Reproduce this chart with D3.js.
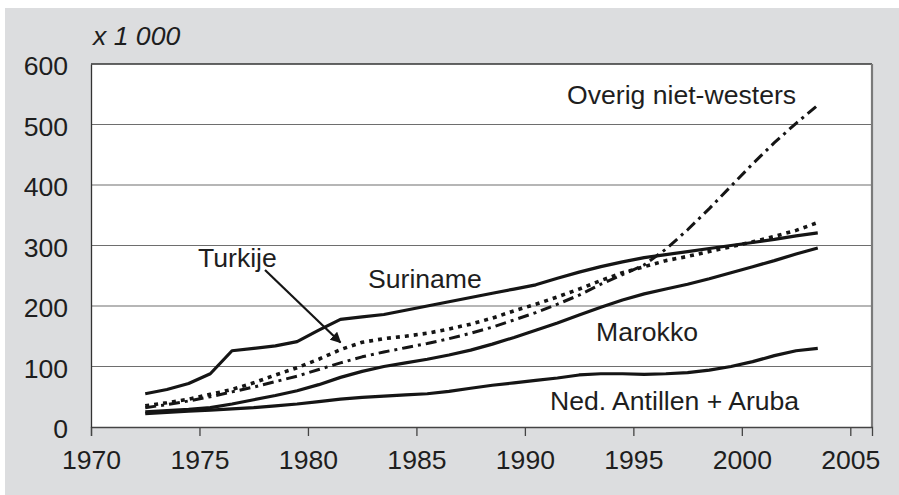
<!DOCTYPE html>
<html>
<head>
<meta charset="utf-8">
<script src="https://cdn.jsdelivr.net/npm/d3@7/dist/d3.min.js"></script>
<style>
  html, body { margin: 0; padding: 0; background: #ffffff; }
  svg { display: block; }
  text { font-family: "Liberation Sans", Arial, Helvetica, sans-serif; fill: #1e1e1e; }
</style>
</head>
<body>
<svg id="chart" width="899" height="495"></svg>
<script>
// ---- data (x 1 000 persons, per year) ----
const years = [1972,1973,1974,1975,1976,1977,1978,1979,1980,1981,1982,1983,1984,1985,1986,1987,
               1988,1989,1990,1991,1992,1993,1994,1995,1996,1997,1998,1999,2000,2001,2002,2003];
const suriname = [55,62,72,88,126,130,134,141,160,178,182,186,193,200,207,214,
                  221,228,235,246,256,265,273,280,285,290,295,300,305,310,316,321];
const marokko  = [25,27,29,32,38,45,52,60,70,82,92,100,106,112,119,127,
                  137,148,160,172,185,198,210,220,228,236,245,255,265,275,286,296];
const antillen = [22,24,26,28,30,32,35,38,42,46,49,51,53,55,59,64,
                  69,73,77,81,86,88,88,87,88,90,94,100,108,118,126,130];
const turkije  = [35,40,46,54,62,73,86,98,112,128,140,146,150,155,162,170,
                  180,192,203,215,228,242,255,265,275,282,290,298,306,315,325,338];
const overig   = [32,37,43,50,58,66,75,84,95,106,116,124,131,138,146,155,
                  165,177,189,203,218,236,252,268,294,326,361,398,435,470,502,532];
const xTicks = [1970,1975,1980,1985,1990,1995,2000,2005];
const yTicks = [0,100,200,300,400,500,600];

const series = [
  { name: "Ned. Antillen + Aruba", values: antillen, dash: null,      width: 3.2 },
  { name: "Marokko",               values: marokko,  dash: null,      width: 3.2 },
  { name: "Suriname",              values: suriname, dash: null,      width: 3.2 },
  { name: "Turkije",               values: turkije,  dash: "4,5",     width: 3.6 },
  { name: "Overig niet-westers",   values: overig,   dash: "11,5,3,5", width: 3.0 }
];

const svg = d3.select("#chart");
const W = 899, H = 495;
const L = 91, R = 872, T = 64, B = 427;
const FS = 26.6;

// background
svg.append("rect").attr("x", 5).attr("y", 8).attr("width", W - 5).attr("height", H - 8).attr("fill", "#dcdddf");
svg.append("rect").attr("x", L).attr("y", T).attr("width", R - L).attr("height", B - T).attr("fill", "#ffffff");

const x = d3.scaleLinear().domain([1970, 2006]).range([L, R]);
const y = d3.scaleLinear().domain([0, 600]).range([B, T]);

// gridlines
svg.append("g")
  .selectAll("line").data(yTicks.filter(v => v > 0 && v < 600)).join("line")
  .attr("x1", L).attr("x2", R)
  .attr("y1", d => y(d)).attr("y2", d => y(d))
  .attr("stroke", "#6e6e6e").attr("stroke-width", 1.2);

// frame: top dark, right grey
svg.append("line").attr("x1", L).attr("x2", R).attr("y1", T).attr("y2", T).attr("stroke", "#333").attr("stroke-width", 1.3);
svg.append("line").attr("x1", R).attr("x2", R).attr("y1", T).attr("y2", B).attr("stroke", "#7a7a7a").attr("stroke-width", 2.2);

// x axis
const xAxis = d3.axisBottom(x).tickValues(xTicks).tickFormat(d3.format("d")).tickSize(9).tickPadding(14);
const gx = svg.append("g").attr("transform", `translate(0,${B})`).call(xAxis);
gx.select(".domain").attr("stroke", "#444").attr("stroke-width", 1.3);
gx.selectAll(".tick line").attr("stroke", "#444").attr("stroke-width", 1.3);
gx.selectAll(".tick text").attr("font-size", FS).attr("fill", "#1e1e1e")
  .attr("font-family", "'Liberation Sans', Arial, sans-serif");

// y axis
const yAxis = d3.axisLeft(y).tickValues(yTicks).tickSize(0).tickPadding(23);
const gy = svg.append("g").attr("transform", `translate(${L},0)`).call(yAxis);
gy.select(".domain").attr("stroke", "#333").attr("stroke-width", 1.3);
gy.selectAll(".tick text").attr("font-size", FS).attr("fill", "#1e1e1e").attr("dy", "0.4em")
  .attr("font-family", "'Liberation Sans', Arial, sans-serif");

// lines
const line = d3.line()
  .x((d, i) => x(years[i] + 0.5))
  .y(d => y(d));

svg.append("g").selectAll("path").data(series).join("path")
  .attr("d", d => line(d.values))
  .attr("fill", "none")
  .attr("stroke", "#151515")
  .attr("stroke-width", d => d.width)
  .attr("stroke-dasharray", d => d.dash)
  .attr("stroke-linejoin", "round");

// unit label
svg.append("text").attr("x", 93).attr("y", 45).attr("font-size", FS).attr("font-style", "italic").text("x 1 000");

// series labels
const labels = [
  { t: "Overig niet-westers",   x: 567, y: 104 },
  { t: "Turkije",               x: 198, y: 267 },
  { t: "Suriname",              x: 368, y: 288 },
  { t: "Marokko",               x: 596, y: 341 },
  { t: "Ned. Antillen + Aruba", x: 550, y: 410 }
];
svg.append("g").selectAll("text").data(labels).join("text")
  .attr("x", d => d.x).attr("y", d => d.y).attr("font-size", FS).text(d => d.t);

// arrow Turkije
const defs = svg.append("defs");
defs.append("marker").attr("id", "arrow").attr("viewBox", "0 0 10 10")
  .attr("refX", 9).attr("refY", 5).attr("markerWidth", 5).attr("markerHeight", 5)
  .attr("orient", "auto-start-reverse").attr("markerUnits", "strokeWidth")
  .append("path").attr("d", "M0,0 L10,5 L0,10 z").attr("fill", "#151515");
const ti = years.indexOf(1981);
svg.append("line")
  .attr("x1", 265).attr("y1", 270)
  .attr("x2", x(years[ti] + 0.5)).attr("y2", y(turkije[ti]) - 7)
  .attr("stroke", "#151515").attr("stroke-width", 2.2)
  .attr("marker-end", "url(#arrow)");
</script>
</body>
</html>
